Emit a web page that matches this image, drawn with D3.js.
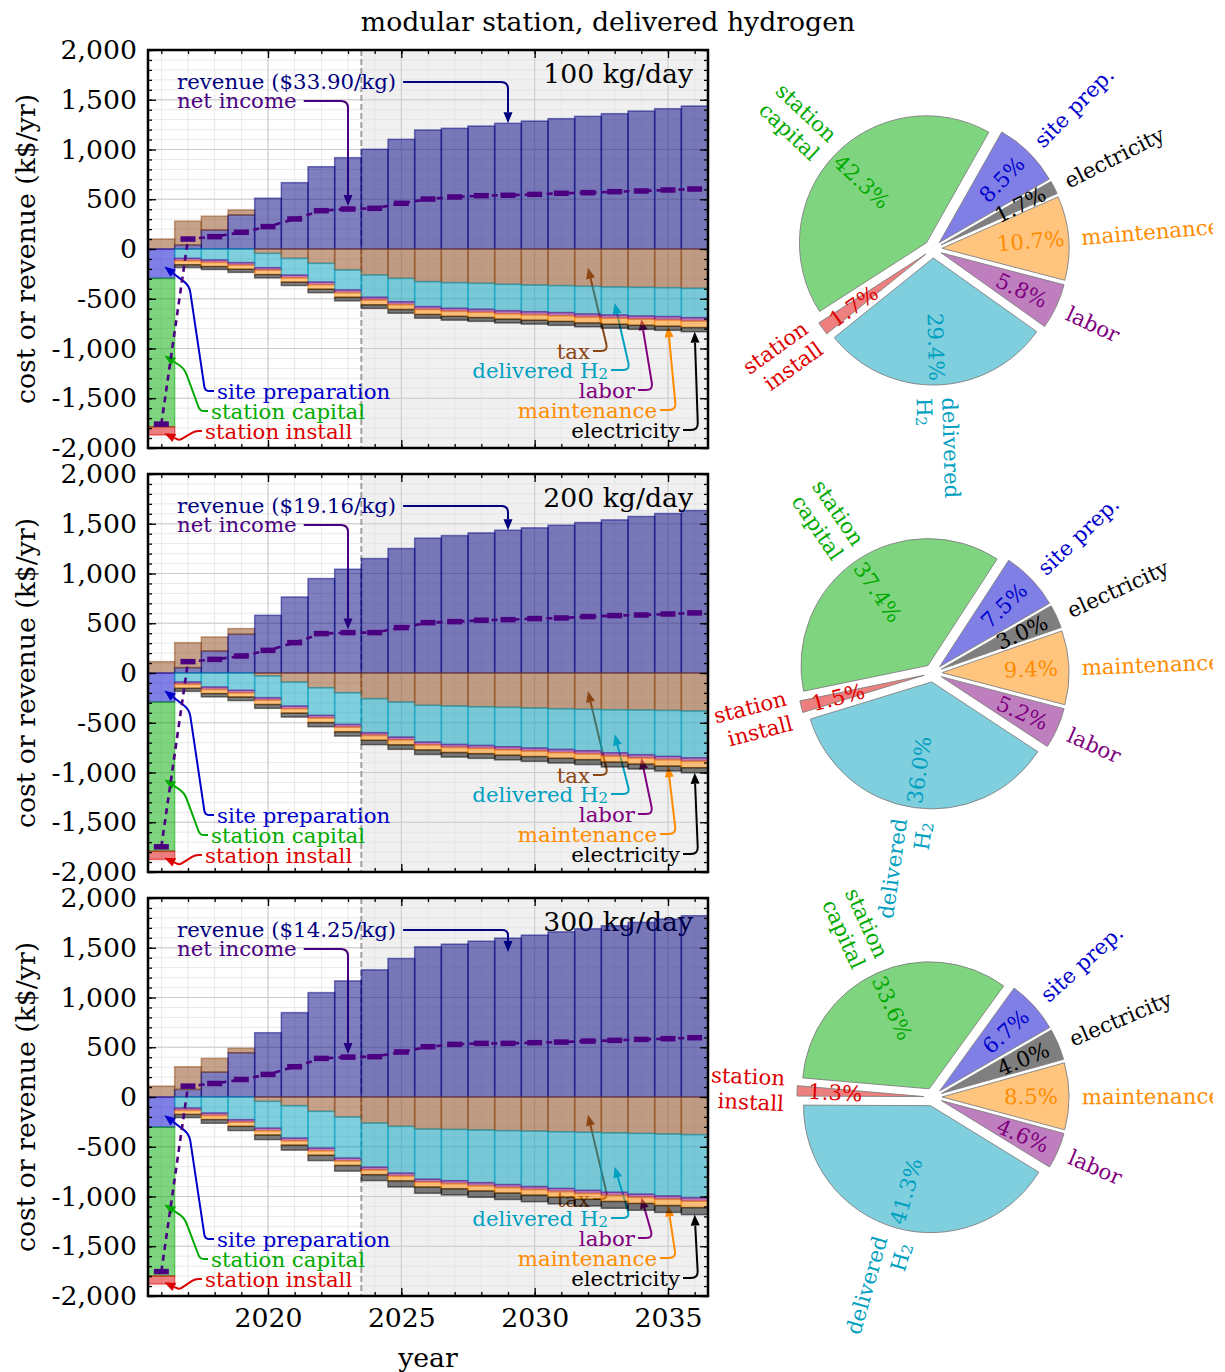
<!DOCTYPE html>
<html>
<head>
<meta charset="utf-8">
<script src="https://cdn.jsdelivr.net/npm/d3@7"></script>
<style>
  body { margin: 0; background: #fff; }
  svg { font-family: "DejaVu Serif", serif; }
</style>
</head>
<body>
<svg id="chart" width="1225" height="1372"></svg>
<script>
// ---- data (k$/yr) ----
const years = [2016, 2017, 2018, 2019, 2020, 2021, 2022, 2023, 2024, 2025, 2026,
               2027, 2028, 2029, 2030, 2031, 2032, 2033, 2034, 2035, 2036];
const projectionStart = 2023.5;
const yTicks = [2000, 1500, 1000, 500, 0, -500, -1000, -1500, -2000];
const xTicks = [2020, 2025, 2030, 2035];
const capacities = ["100 kg/day", "200 kg/day", "300 kg/day"];
const prices = ["$33.90/kg", "$19.16/kg", "$14.25/kg"];

const revenue100 = [0, 40, 190, 342, 510, 667, 827, 918, 1002, 1102, 1196, 1213, 1236, 1263, 1286, 1310, 1333, 1360, 1387, 1410, 1437];
const revenue200 = [0, 54, 221, 389, 580, 764, 949, 1043, 1150, 1251, 1355, 1381, 1408, 1435, 1459, 1485, 1512, 1539, 1573, 1603, 1633];
const revenue300 = [0, 76, 250, 445, 646, 848, 1049, 1167, 1278, 1392, 1509, 1536, 1566, 1597, 1627, 1660, 1691, 1721, 1755, 1788, 1822];

// tax: positive = credit stacked on revenue, negative = paid
const tax100 = [100, 240, 140, 50, -44, -94, -144, -211, -261, -295, -328, -338, -345, -355, -362, -368, -375, -382, -385, -388, -395];
const tax200 = [114, 251, 141, 57, -30, -91, -148, -198, -258, -292, -325, -332, -339, -345, -352, -359, -365, -369, -372, -376, -382];
const tax300 = [109, 228, 138, 44, -44, -87, -144, -201, -262, -295, -322, -326, -332, -338, -343, -349, -355, -360, -366, -372, -378];

const deliveredH2_100 = [0, 94, 110, 137, 144, 168, 188, 200, 224, 235, 251, 258, 261, 265, 268, 271, 278, 281, 288, 291, 295];
const deliveredH2_200 = [0, 90, 141, 174, 218, 241, 278, 319, 342, 352, 369, 386, 389, 396, 402, 409, 416, 433, 449, 462, 470];
const deliveredH2_300 = [0, 111, 161, 228, 269, 326, 369, 413, 443, 470, 504, 515, 529, 542, 557, 570, 583, 597, 610, 622, 634];

const laborCost = [0, 24, 25, 25, 26, 27, 27, 28, 28, 29, 29, 30, 30, 31, 31, 32, 32, 33, 33, 34, 35];
const maintenanceCost = [0, 40, 41, 42, 43, 44, 45, 46, 48, 49, 50, 51, 53, 54, 55, 57, 58, 60, 61, 63, 65];
const electricity100 = [0, 28, 30, 31, 33, 34, 35, 36, 36, 37, 37, 38, 38, 38, 39, 39, 39, 40, 40, 41, 41];
const electricity200 = [0, 30, 33, 36, 38, 40, 42, 43, 44, 45, 46, 46, 47, 47, 48, 48, 49, 49, 50, 50, 51];
const electricity300 = [0, 32, 37, 42, 46, 50, 54, 57, 59, 61, 62, 63, 64, 65, 66, 66, 67, 68, 68, 69, 70];

// first-year capital costs, one per station size
const sitePrep = [295, 292, 304];
const stationCapital = [1491, 1498, 1494];
const stationInstall = [83, 84, 81];

const netIncome100 = [-1760, 100, 124, 168, 225, 302, 385, 402, 409, 459, 502, 523, 536, 540, 549, 560, 566, 576, 583, 593, 603];
const netIncome200 = [-1747, 114, 137, 171, 228, 305, 396, 406, 406, 456, 506, 516, 530, 536, 547, 553, 567, 577, 583, 593, 604];
const netIncome300 = [-1755, 109, 136, 176, 227, 304, 388, 401, 405, 452, 505, 529, 539, 539, 546, 552, 562, 569, 579, 586, 596];

// pie shares (%): site prep, station capital, station install, delivered H2, labor, maintenance, electricity
const pieLabels = ["site prep.", "station\ncapital", "station\ninstall", "delivered\nH₂", "labor", "maintenance", "electricity"];
const pie100 = [8.5, 42.3, 1.7, 29.4, 5.8, 10.7, 1.7];
const pie200 = [7.5, 37.4, 1.5, 36.0, 5.2, 9.4, 3.0];
const pie300 = [6.7, 33.6, 1.3, 41.3, 4.6, 8.5, 4.0];

const colors = {
  revenue: "#000080", net: "#4b0082", tax: "#8b4513", sitePrep: "#0000cd",
  capital: "#00aa00", install: "#dd0000", h2: "#00a0c0", labor: "#800080",
  maint: "#ff8c00", elec: "#000000"
};
const pieColors = [colors.sitePrep, colors.capital, colors.install, colors.h2, colors.labor, colors.maint, colors.elec];

const panels = [
  {revenue: revenue100, tax: tax100, h2: deliveredH2_100, elec: electricity100, net: netIncome100, pie: pie100},
  {revenue: revenue200, tax: tax200, h2: deliveredH2_200, elec: electricity200, net: netIncome200, pie: pie200},
  {revenue: revenue300, tax: tax300, h2: deliveredH2_300, elec: electricity300, net: netIncome300, pie: pie300}
];

// ---- layout ----
const svg = d3.select("#chart");
const plotL = 148, plotR = 708, plotH = 398;
const panelTops = [50, 474, 898];
const bigFont = 26.7, smallFont = 21.3;
const fmt = d3.formatLocale({decimal: ".", thousands: ",", grouping: [3], currency: ["$", ""], minus: "-"}).format(",");

// figure edge: pie labels run off the right side
svg.append("defs").append("clipPath").attr("id", "fig-clip")
  .append("rect").attr("x", 0).attr("y", 0).attr("width", 1213).attr("height", 1372);

const x = d3.scaleLinear()
  .domain([years[0] - 0.5, years[years.length - 1] + 0.5])
  .range([plotL, plotR]);

svg.append("text")
  .attr("x", 608).attr("y", 21)
  .attr("text-anchor", "middle").attr("dominant-baseline", "central")
  .attr("font-size", bigFont)
  .text("modular station, delivered hydrogen");

// rounded polyline ending in a filled arrow head
function arrow(g, pts, color) {
  const n = pts.length;
  const tip = pts[n - 1], prev = pts[n - 2];
  const len = Math.hypot(tip[0] - prev[0], tip[1] - prev[1]);
  const ux = (tip[0] - prev[0]) / len, uy = (tip[1] - prev[1]) / len;
  const hl = 11, hw = 4.5;
  const base = [tip[0] - ux * hl, tip[1] - uy * hl];
  const lp = pts.slice(0, n - 1).concat([base]);
  let d = `M${lp[0]}`;
  for (let i = 1; i < lp.length - 1; i++) {
    const p0 = lp[i - 1], p1 = lp[i], p2 = lp[i + 1];
    const l1 = Math.hypot(p1[0] - p0[0], p1[1] - p0[1]);
    const l2 = Math.hypot(p2[0] - p1[0], p2[1] - p1[1]);
    const r = Math.min(7, l1 / 2, l2 / 2);
    const a = [p1[0] - (p1[0] - p0[0]) / l1 * r, p1[1] - (p1[1] - p0[1]) / l1 * r];
    const b = [p1[0] + (p2[0] - p1[0]) / l2 * r, p1[1] + (p2[1] - p1[1]) / l2 * r];
    d += `L${a}Q${p1} ${b}`;
  }
  d += `L${lp[lp.length - 1]}`;
  g.append("path").attr("d", d).attr("fill", "none")
    .attr("stroke", color).attr("stroke-width", 2);
  g.append("path")
    .attr("d", `M${tip}L${base[0] + uy * hw},${base[1] - ux * hw}L${base[0] - uy * hw},${base[1] + ux * hw}Z`)
    .attr("fill", color);
}

function label(g, str, px, py, anchor, color, fs) {
  const t = g.append("text")
    .attr("x", px).attr("y", py)
    .attr("text-anchor", anchor).attr("dominant-baseline", "central")
    .attr("font-size", fs).attr("fill", color);
  if (str.endsWith("H₂")) {
    t.append("tspan").text(str.slice(0, -1));
    t.append("tspan").attr("dy", "0.3em").attr("font-size", fs * 0.7).text("2");
  } else t.text(str);
  return t;
}

function multiline(t, str, fs) {
  const lines = str.split("\n");
  lines.forEach((ln, j) => {
    const dy = j === 0 ? -(lines.length - 1) * 0.6 : 1.2;
    if (ln.endsWith("H₂")) {
      t.append("tspan").attr("x", 0).attr("dy", dy + "em").text(ln.slice(0, -1));
      t.append("tspan").attr("dy", "0.3em").attr("font-size", fs * 0.7).text("2");
    } else {
      t.append("tspan").attr("x", 0).attr("dy", dy + "em").text(ln);
    }
  });
}

panels.forEach((p, k) => {
  const top = panelTops[k];
  const bottom = top + plotH;
  const y = d3.scaleLinear().domain([-2000, 2000]).range([bottom, top]);
  const g = svg.append("g");

  // background, shaded projection years
  g.append("rect").attr("x", plotL).attr("y", top)
    .attr("width", plotR - plotL).attr("height", plotH).attr("fill", "#fff");
  g.append("rect").attr("x", x(projectionStart)).attr("y", top)
    .attr("width", plotR - x(projectionStart)).attr("height", plotH).attr("fill", "#f0f0f0");

  // grid
  const minorY = d3.range(-2000, 2001, 100), minorX = d3.range(2016, 2037, 1);
  g.append("g").selectAll("line").data(minorY).join("line")
    .attr("x1", plotL).attr("x2", plotR).attr("y1", d => y(d)).attr("y2", d => y(d))
    .attr("stroke", "#e3e3e3").attr("stroke-width", 0.8);
  g.append("g").selectAll("line").data(minorX).join("line")
    .attr("y1", top).attr("y2", bottom).attr("x1", d => x(d)).attr("x2", d => x(d))
    .attr("stroke", "#e3e3e3").attr("stroke-width", 0.8);
  g.append("g").selectAll("line").data(yTicks).join("line")
    .attr("x1", plotL).attr("x2", plotR).attr("y1", d => y(d)).attr("y2", d => y(d))
    .attr("stroke", "#cbcbcb").attr("stroke-width", 1);
  g.append("g").selectAll("line").data(xTicks).join("line")
    .attr("y1", top).attr("y2", bottom).attr("x1", d => x(d)).attr("x2", d => x(d))
    .attr("stroke", "#cbcbcb").attr("stroke-width", 1);

  g.append("line")
    .attr("x1", x(projectionStart)).attr("x2", x(projectionStart))
    .attr("y1", top).attr("y2", bottom)
    .attr("stroke", "#a0a0a0").attr("stroke-width", 2).attr("stroke-dasharray", "6,3");

  // annotation layer sits under the bars
  const a = g.append("g");

  // stacked bars
  const rects = [];
  const layerBottom = {}; // per year index: extent of each cost layer
  years.forEach((yr, i) => {
    const rev = p.revenue[i], tax = p.tax[i];
    if (rev > 0) rects.push({yr, a: 0, b: rev, c: colors.revenue});
    if (tax > 0) rects.push({yr, a: rev, b: rev + tax, c: colors.tax});
    const neg = [];
    if (tax < 0) neg.push(["tax", -tax, colors.tax]);
    if (i === 0) {
      neg.push(["sitePrep", sitePrep[k], colors.sitePrep]);
      neg.push(["capital", stationCapital[k], colors.capital]);
      neg.push(["install", stationInstall[k], colors.install]);
    }
    neg.push(["h2", p.h2[i], colors.h2], ["labor", laborCost[i], colors.labor],
             ["maint", maintenanceCost[i], colors.maint], ["elec", p.elec[i], colors.elec]);
    let cum = 0;
    layerBottom[i] = {};
    neg.forEach(([key, v, c]) => {
      if (v > 0) { rects.push({yr, a: cum, b: cum - v, c}); }
      layerBottom[i][key] = {top: cum, bottom: cum - v};
      cum -= v;
    });
  });

  g.append("g").selectAll("rect").data(rects).join("rect")
    .attr("x", d => x(d.yr - 0.5))
    .attr("width", d => x(d.yr + 0.5) - x(d.yr - 0.5))
    .attr("y", d => y(Math.max(d.a, d.b)))
    .attr("height", d => Math.abs(y(d.a) - y(d.b)))
    .attr("fill", d => d.c).attr("fill-opacity", 0.5)
    .attr("stroke", d => d.c).attr("stroke-opacity", 0.5).attr("stroke-width", 1.5);

  // net income
  g.append("path")
    .datum(years.map((yr, i) => [yr, p.net[i]]))
    .attr("d", d3.line().x(d => x(d[0])).y(d => y(d[1])))
    .attr("fill", "none").attr("stroke", colors.net)
    .attr("stroke-width", 2.6).attr("stroke-dasharray", "6,5");
  g.append("g").selectAll("rect").data(years.map((yr, i) => [yr, p.net[i]])).join("rect")
    .attr("x", d => x(d[0]) - 7.5).attr("width", 15)
    .attr("y", d => y(d[1]) - 2.75).attr("height", 5.5)
    .attr("fill", colors.net);

  // annotations
  const fs = smallFont;
  const revT = label(a, `revenue (${prices[k]})`, plotL + 29, top + 31, "start", colors.revenue, fs);
  const revEnd = plotL + 29 + revT.node().getComputedTextLength();
  const iRev = years.indexOf(2029);
  const revTipY = Math.max(y(p.revenue[iRev]), top + 32 + 22);
  arrow(a, [[revEnd + 7, top + 32], [x(2029), top + 32], [x(2029), revTipY]], colors.revenue);

  const netT = label(a, "net income", plotL + 29, top + 50, "start", colors.net, fs);
  const netEnd = plotL + 29 + netT.node().getComputedTextLength();
  const iNet = years.indexOf(2023);
  arrow(a, [[netEnd + 7, top + 51], [x(2023), top + 51], [x(2023), y(p.net[iNet]) - 3]], colors.net);

  label(a, capacities[k], plotR - 15, top + 23, "end", "#000", bigFont);

  // first-year capital items
  const lb0 = layerBottom[0];
  const tipX = x(years[0]) + 3;
  const spTip = [tipX, y(-0.6 * sitePrep[k])];
  label(a, "site preparation", plotL + 69, top + 341, "start", colors.sitePrep, fs);
  arrow(a, [[plotL + 66, top + 341], [plotL + 57, top + 341], [spTip[0] + 25, spTip[1] + 19], spTip], colors.sitePrep);
  const capTip = [tipX, y(lb0.capital.top - 0.52 * stationCapital[k])];
  label(a, "station capital", plotL + 63, top + 361, "start", colors.capital, fs);
  arrow(a, [[plotL + 60, top + 361], [plotL + 52, top + 361], [capTip[0] + 20, capTip[1] + 13], capTip], colors.capital);
  const insTip = [tipX, y(lb0.install.top - 0.8 * stationInstall[k])];
  label(a, "station install", plotL + 57, top + 381, "start", colors.install, fs);
  arrow(a, [[plotL + 54, top + 381], [plotL + 47, top + 381], [insTip[0] + 15, insTip[1] + 7], insTip], colors.install);

  // operating cost items
  const items = [
    {txt: "tax", yr: 2032, c: colors.tax, end: 442, corner: 460, ly: 301,
     v: i => layerBottom[i].tax ? layerBottom[i].tax.bottom / 2 : 0},
    {txt: "delivered H₂", yr: 2033, c: colors.h2, end: 460, corner: 482, ly: 320,
     v: i => layerBottom[i].h2.top - 0.57 * p.h2[i]},
    {txt: "labor", yr: 2034, c: colors.labor, end: 487, corner: 505, ly: 340,
     v: i => layerBottom[i].labor.bottom},
    {txt: "maintenance", yr: 2035, c: colors.maint, end: 509, corner: 528, ly: 360,
     v: i => layerBottom[i].maint.bottom},
    {txt: "electricity", yr: 2036, c: "#000", end: 532, corner: 550, ly: 380,
     v: i => layerBottom[i].elec.bottom}
  ];
  items.forEach(it => {
    const i = years.indexOf(it.yr);
    label(a, it.txt, plotL + it.end, top + it.ly, "end", it.c, fs);
    arrow(a, [[plotL + it.end + 3, top + it.ly], [plotL + it.corner, top + it.ly], [x(it.yr), y(it.v(i))]], it.c);
  });

  // axes: inward ticks on four sides
  const ax = svg.append("g");
  const styleAxis = sel => {
    sel.select(".domain").remove();
    sel.selectAll(".tick line").attr("stroke", "#000").attr("stroke-width", 1.3);
    sel.selectAll(".tick text").attr("font-size", bigFont).attr("font-family", "DejaVu Serif").attr("fill", "#000");
  };
  ax.append("g").attr("transform", `translate(${plotL},0)`)
    .call(d3.axisLeft(y).tickValues(yTicks).tickSize(-8).tickPadding(11).tickFormat(fmt)).call(styleAxis);
  ax.append("g").attr("transform", `translate(${plotL},0)`)
    .call(d3.axisLeft(y).tickValues(minorY).tickSize(-4).tickFormat("")).call(styleAxis);
  ax.append("g").attr("transform", `translate(${plotR},0)`)
    .call(d3.axisRight(y).tickValues(yTicks).tickSize(-8).tickFormat("")).call(styleAxis);
  ax.append("g").attr("transform", `translate(${plotR},0)`)
    .call(d3.axisRight(y).tickValues(minorY).tickSize(-4).tickFormat("")).call(styleAxis);
  ax.append("g").attr("transform", `translate(0,${top})`)
    .call(d3.axisTop(x).tickValues(xTicks).tickSize(-8).tickFormat("")).call(styleAxis);
  ax.append("g").attr("transform", `translate(0,${top})`)
    .call(d3.axisTop(x).tickValues(minorX).tickSize(-4).tickFormat("")).call(styleAxis);
  ax.append("g").attr("transform", `translate(0,${bottom})`)
    .call(d3.axisBottom(x).tickValues(xTicks).tickSize(-8).tickPadding(12)
      .tickFormat(k === 2 ? d3.format("d") : "")).call(styleAxis);
  ax.append("g").attr("transform", `translate(0,${bottom})`)
    .call(d3.axisBottom(x).tickValues(minorX).tickSize(-4).tickFormat("")).call(styleAxis);
  ax.append("rect").attr("x", plotL).attr("y", top)
    .attr("width", plotR - plotL).attr("height", plotH)
    .attr("fill", "none").attr("stroke", "#000").attr("stroke-width", 2.5);

  svg.append("text")
    .attr("transform", `translate(25,${top + plotH / 2}) rotate(-90)`)
    .attr("text-anchor", "middle").attr("dominant-baseline", "central")
    .attr("font-size", bigFont)
    .text("cost or revenue (k$/yr)");

  // pie of cost shares
  const cx = 933, cy = y(0), r = 127, explode = 9;
  const a0 = Math.PI / 2 - 30 * Math.PI / 180;
  const arcs = d3.pie().sort(null).value(d => d)
    .startAngle(a0).endAngle(a0 - 2 * Math.PI)(p.pie);
  const arc = d3.arc().innerRadius(0).outerRadius(r);
  const pg = svg.append("g").attr("clip-path", "url(#fig-clip)")
    .append("g").attr("transform", `translate(${cx},${cy})`);
  arcs.forEach((d, j) => {
    const mid = (d.startAngle + d.endAngle) / 2;
    const dx = Math.sin(mid), dy = -Math.cos(mid);
    const ox = dx * explode, oy = dy * explode;
    pg.append("path").attr("d", arc(d))
      .attr("transform", `translate(${ox},${oy})`)
      .attr("fill", pieColors[j]).attr("fill-opacity", 0.5)
      .attr("stroke", "#808080").attr("stroke-width", 0.9);
    const theta = 90 - mid * 180 / Math.PI; // math angle, degrees
    const right = dx >= 0;
    const rot = right ? -theta : 180 - theta;
    const lx = ox + dx * 1.1 * r, ly = oy + dy * 1.1 * r;
    const t = pg.append("text")
      .attr("transform", `translate(${lx},${ly}) rotate(${rot})`)
      .attr("text-anchor", right ? "start" : "end")
      .attr("dominant-baseline", "central")
      .attr("font-size", smallFont).attr("fill", pieColors[j]);
    multiline(t, pieLabels[j], smallFont);
    const px = ox + dx * 0.7 * r, py = oy + dy * 0.7 * r;
    pg.append("text")
      .attr("transform", `translate(${px},${py}) rotate(${rot})`)
      .attr("text-anchor", "middle").attr("dominant-baseline", "central")
      .attr("font-size", smallFont).attr("fill", pieColors[j])
      .text(p.pie[j].toFixed(1) + "%");
  });
});

svg.append("text")
  .attr("x", (plotL + plotR) / 2).attr("y", 1357)
  .attr("text-anchor", "middle").attr("dominant-baseline", "central")
  .attr("font-size", bigFont)
  .text("year");
</script>
</body>
</html>
